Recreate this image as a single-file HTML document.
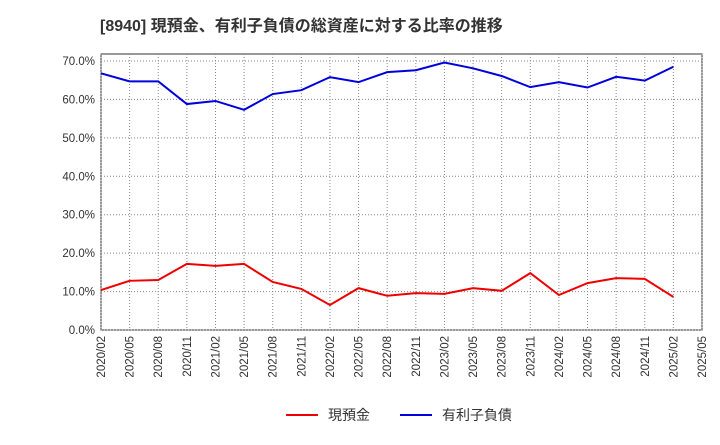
<!DOCTYPE html>
<html><head><meta charset="utf-8"><style>
body{margin:0;background:#fff;font-family:"Liberation Sans","Noto Sans CJK JP",sans-serif}
</style></head><body>
<svg id="c" width="720" height="440" xmlns="http://www.w3.org/2000/svg" font-family="Liberation Sans, Noto Sans CJK JP, sans-serif"></svg>
<script>
const categories=["2020/02","2020/05","2020/08","2020/11","2021/02","2021/05","2021/08","2021/11","2022/02","2022/05","2022/08","2022/11","2023/02","2023/05","2023/08","2023/11","2024/02","2024/05","2024/08","2024/11","2025/02","2025/05"];
const cashValues=[10.4,12.8,13.0,17.2,16.7,17.2,12.5,10.7,6.5,10.9,8.9,9.6,9.4,10.9,10.2,14.8,9.1,12.2,13.5,13.3,8.6];
const debtValues=[66.8,64.7,64.7,58.8,59.6,57.3,61.4,62.4,65.8,64.5,67.1,67.6,69.6,68.1,66.1,63.2,64.5,63.1,65.9,64.9,68.5];
const yTicks=[0,10,20,30,40,50,60,70];
const yTickLabels=["0.0%","10.0%","20.0%","30.0%","40.0%","50.0%","60.0%","70.0%"];
const NS="http://www.w3.org/2000/svg",svg=document.getElementById('c');
const L=101,R=702,T=54,B=330;
const x=i=>L+i*(R-L)/(categories.length-1);
const y=v=>B-v*(B-61)/70;
function el(t,a,p){const e=document.createElementNS(NS,t);for(const k in a)e.setAttribute(k,a[k]);(p||svg).appendChild(e);return e;}
const title=el('text',{x:100,y:31,'font-size':16,'font-weight':'bold',fill:'#333'});title.textContent="[8940]  現預金、有利子負債の総資産に対する比率の推移";


el('rect',{x:L,y:T,width:R-L,height:B-T,fill:'#fff',stroke:'#333','stroke-width':1});
categories.forEach((c,i)=>{
  const g=el('line',{x1:x(i),x2:x(i),y1:T,y2:B,stroke:'#888','stroke-dasharray':'1,2'});
  
  
  const t=el('text',{x:0,y:0,'font-size':11.5,fill:'#333','text-anchor':'end',transform:`translate(${x(i)+4},${B+6}) rotate(-90)`});
  t.textContent=c;
  
  
});
yTicks.forEach((v,i)=>{
  const g=el('line',{x1:L,x2:R,y1:y(v),y2:y(v),stroke:'#888','stroke-dasharray':'1,2'});
  
  
  const t=el('text',{x:L-6,y:y(v)+4,'font-size':11.5,fill:'#333','text-anchor':'end'});
  t.textContent=yTickLabels[i];
  
  
});
function line(vals,color,name){
  const p=el('polyline',{points:vals.map((v,i)=>x(i)+','+y(v)).join(' '),fill:'none',stroke:color,'stroke-width':2});
  
  
}
line(cashValues,'#e00','cash-line');
line(debtValues,'#00d','debt-line');
function legend(lx,color,label,name){
  const g=el('g',{});
  
  
  el('line',{x1:lx,x2:lx+32,y1:415,y2:415,stroke:color,'stroke-width':2},g);
  const t=el('text',{x:lx+42,y:420,'font-size':14,fill:'#333'},g);t.textContent=label;
}
legend(286,'#e00','現預金','legend-cash');
legend(400,'#00d','有利子負債','legend-debt');
</script>
</body></html>
